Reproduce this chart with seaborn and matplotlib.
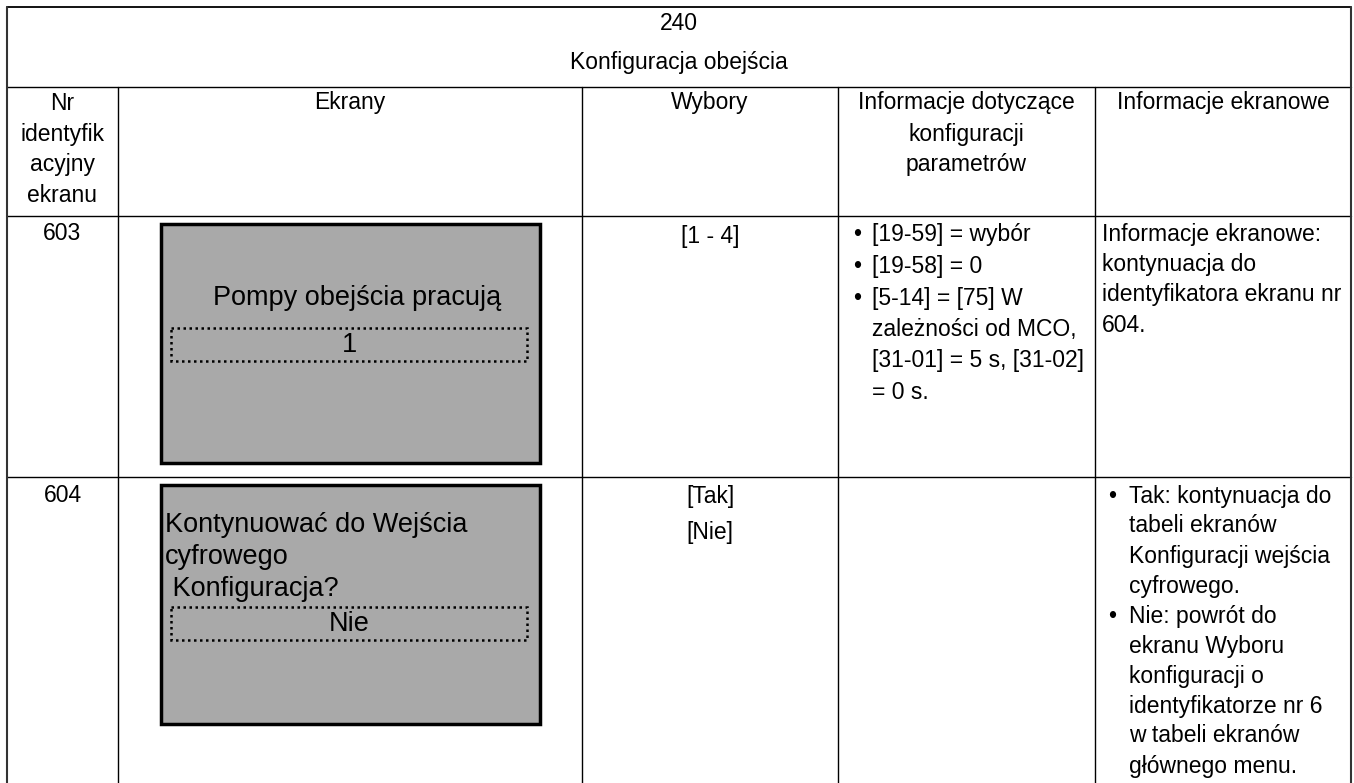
import matplotlib
matplotlib.use('Agg')
import matplotlib.pyplot as plt
import seaborn as sns
from matplotlib.patches import Rectangle

# table content
table_number = "240"
table_title = "Konfiguracja obejścia"
headers = [
    ["Nr", "identyfik", "acyjny", "ekranu"],
    ["Ekrany"],
    ["Wybory"],
    ["Informacje dotyczące", "konfiguracji", "parametrów"],
    ["Informacje ekranowe"],
]
screen_ids = ["603", "604"]
screen_text = [
    ["Pompy obejścia pracują"],
    ["Kontynuować do Wejścia", "cyfrowego", " Konfiguracja?"],
]
screen_value = ["1", "Nie"]
choices = [["[1 - 4]"], ["[Tak]", "[Nie]"]]
param_info = [
    [("•", "[19-59] = wybór"), ("•", "[19-58] = 0"), ("•", "[5-14] = [75] W"),
     ("", "zależności od MCO,"), ("", "[31-01] = 5 s, [31-02]"), ("", "= 0 s.")],
    [],
]
screen_info = [
    [("", "Informacje ekranowe:"), ("", "kontynuacja do"),
     ("", "identyfikatora ekranu nr"), ("", "604.")],
    [("•", "Tak: kontynuacja do"), ("", "tabeli ekranów"), ("", "Konfiguracji wejścia"),
     ("", "cyfrowego."), ("•", "Nie: powrót do"), ("", "ekranu Wyboru"),
     ("", "konfiguracji o"), ("", "identyfikatorze nr 6"), ("", "w tabeli ekranów"),
     ("", "głównego menu.")],
]

sns.set_theme(style="white")
plt.rcParams['font.family'] = ['Liberation Sans', 'DejaVu Sans']
plt.rcParams['text.color'] = 'black'

W, H = 1354, 783
fig = plt.figure(figsize=(W / 100, H / 100), dpi=100)
ax = fig.add_axes([0, 0, 1, 1])
ax.set_xlim(0, W)
ax.set_ylim(H, 0)
ax.axis('off')

col_x = [7, 118, 582, 838, 1095, 1351]
title_bottom = 87
header_bottom = 216
row_tops = [216, 477]
fs = 16.5
step = 31

# grid lines
ax.plot([col_x[0], col_x[-1]], [7, 7], color='black', lw=1.3)
ax.plot([col_x[0], col_x[-1]], [title_bottom, title_bottom], color='black', lw=1)
ax.plot([col_x[0], col_x[-1]], [header_bottom, header_bottom], color='black', lw=1)
ax.plot([col_x[0], col_x[-1]], [row_tops[1], row_tops[1]], color='black', lw=1)
ax.plot([col_x[0], col_x[0]], [7, H], color='#333333', lw=1.5)
ax.plot([col_x[-1], col_x[-1]], [7, H], color='#333333', lw=1.5)
for x in col_x[1:-1]:
    ax.plot([x, x], [title_bottom, H], color='black', lw=1)

# title
cx = (col_x[0] + col_x[-1]) / 2
ax.text(cx, 24, table_number, ha='center', va='center', fontsize=fs)
ax.text(cx, 63, table_title, ha='center', va='center', fontsize=fs)

# header row
for i, lines in enumerate(headers):
    hx = (col_x[i] + col_x[i + 1]) / 2
    for j, line in enumerate(lines):
        ax.text(hx, 103 + j * step, line, ha='center', va='center', fontsize=fs)

box_top_off = [8, 8]
box_h = 240
for r, top in enumerate(row_tops):
    # id
    ax.text((col_x[0] + col_x[1]) / 2, top + 18, screen_ids[r], ha='center', va='center', fontsize=fs)
    # screen mockup
    bx0, bx1 = 161, 540
    by0 = top + box_top_off[r]
    ax.add_patch(Rectangle((bx0, by0), bx1 - bx0, box_h - 1, facecolor='#a9a9a9',
                           edgecolor='black', lw=2.5, zorder=2))
    if r == 0:
        ax.text(357, by0 + 74, screen_text[r][0], ha='center', va='center', fontsize=19.5, zorder=3)
        dy0 = by0 + 104
    else:
        for j, line in enumerate(screen_text[r]):
            ax.text(165, by0 + 40 + j * 32, line, ha='left', va='center', fontsize=19.5, zorder=3)
        dy0 = by0 + 122
    ax.add_patch(Rectangle((171, dy0), 356, 33, facecolor='none', edgecolor='black',
                           lw=1.8, linestyle=(0, (1, 1.4)), zorder=3))
    ax.text(349, dy0 + 17, screen_value[r], ha='center', va='center', fontsize=19.5, zorder=4)
    # choices
    chx = (col_x[2] + col_x[3]) / 2
    for j, c in enumerate(choices[r]):
        ax.text(chx, top + 20 + j * 36, c, ha='center', va='center', fontsize=fs)
    # parameter info
    for j, (b, t) in enumerate(param_info[r]):
        yy = top + 19 + j * 31.5
        if b:
            ax.text(857, yy, b, ha='center', va='center', fontsize=fs)
        ax.text(872, yy, t, ha='left', va='center', fontsize=fs)
    # screen info
    for j, (b, t) in enumerate(screen_info[r]):
        yy = top + 19 + j * 30
        if r == 0:
            ax.text(1102, yy, t, ha='left', va='center', fontsize=fs)
        else:
            if b:
                ax.text(1112, yy, b, ha='center', va='center', fontsize=fs)
            ax.text(1129, yy, t, ha='left', va='center', fontsize=fs)

fig.savefig('out.png', dpi=100, facecolor='white')
